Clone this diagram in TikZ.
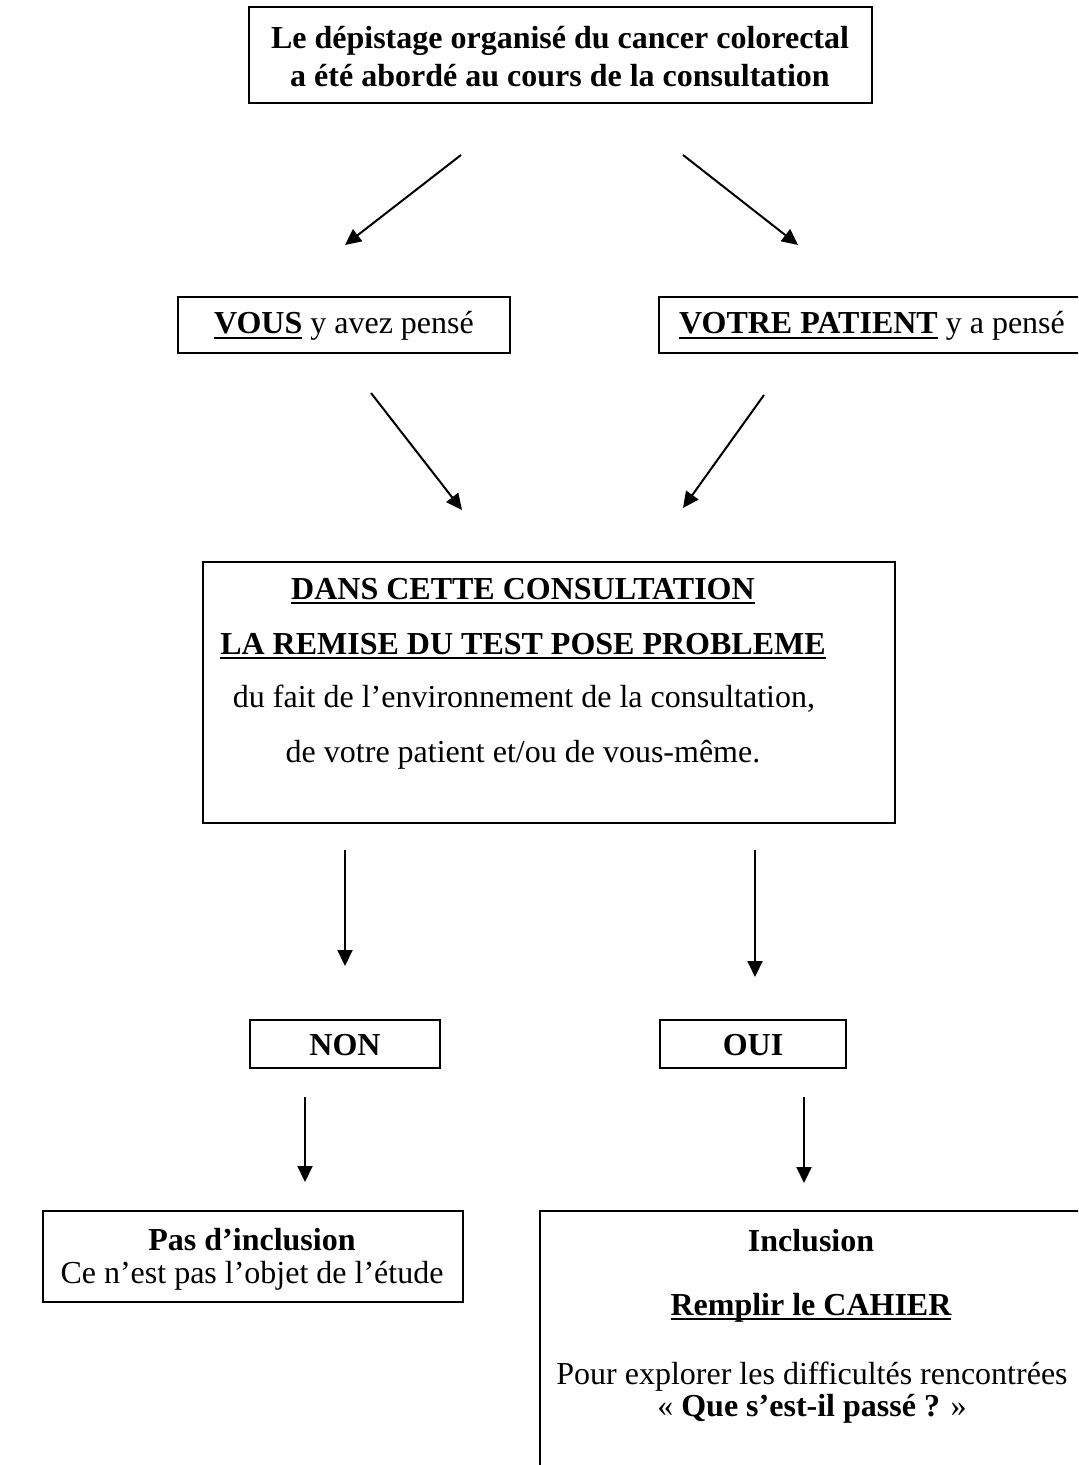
\documentclass[tikz,border=0pt]{standalone}
\usepackage{fontspec}
\setmainfont{Liberation Serif}
\newcommand{\myul}[1]{\setbox0\hbox{#1}\rlap{\vrule width\wd0 height -1.6pt depth 2.7pt}\box0\relax}
\usetikzlibrary{arrows.meta,fit}
\begin{document}
\begin{tikzpicture}[x=0.5pt,y=-0.5pt,
  box/.style={draw, line width=0.8pt, inner sep=0pt},
  txt/.style={font=\fontsize{16}{19}\selectfont, align=center, inner sep=0pt, anchor=base},
  arr/.style={-{Triangle[length=8pt,width=7.5pt]}, line width=1pt}]
\useasboundingbox (0,0) rectangle (1078,1465);
\clip (0,0) rectangle (1078,1465);
\fill[white] (0,0) rectangle (1078,1465);

% boxes
\node[box, fit={(249,7) (872,103)}] (top) {};
\node[box, fit={(178,297) (510,353)}] (vous) {};
\node[box, fit={(659,297) (1100,353)}] (patient) {};
\node[box, fit={(203,562) (895,823)}] (main) {};
\node[box, fit={(250,1020) (440,1068)}] (non) {};
\node[box, fit={(660,1020) (846,1068)}] (oui) {};
\node[box, fit={(43,1211) (463,1302)}] (pas) {};
\node[box, fit={(540,1211) (1100,1500)}] (incl) {};

% texts
\node[txt] (t1) at (560,49) {\bfseries Le dépistage organisé du cancer colorectal};
\node[txt] (t2) at (560,87) {\bfseries a été abordé au cours de la consultation};
\node[txt] (tvous) at (344,334) {\myul{\bfseries VOUS} y avez pensé};
\node[txt] (tpat) at (872,334) {\myul{\bfseries VOTRE PATIENT} y a pensé};
\node[txt] (m1) at (523,599) {\myul{\bfseries DANS CETTE CONSULTATION}};
\node[txt] (m2) at (523,654) {\myul{\bfseries LA REMISE DU TEST POSE PROBLEME}};
\node[txt] (m3) at (524,707) {du fait de l’environnement de la consultation,};
\node[txt] (m4) at (523,762) {de votre patient et/ou de vous-même.};
\node[txt] (tnon) at (345,1055) {\bfseries NON};
\node[txt] (toui) at (753,1055) {\bfseries OUI};
\node[txt] (p1) at (252,1250) {\bfseries Pas d’inclusion};
\node[txt] (p2) at (252,1283) {Ce n’est pas l’objet de l’étude};
\node[txt] (i1) at (811,1251) {\bfseries Inclusion};
\node[txt] (i2) at (811,1315) {\myul{\bfseries Remplir le CAHIER}};
\node[txt] (i3) at (812,1384) {Pour explorer les difficultés rencontrées};
\node[txt] (i4) at (812,1416) {« \textbf{Que s’est-il passé ?} »};

% arrow end points
\coordinate (a1s) at (461,155); \coordinate (a1e) at (345,245);
\coordinate (a2s) at (683,155); \coordinate (a2e) at (798,245);
\coordinate (a3s) at (371,393); \coordinate (a3e) at (462,510);
\coordinate (a4s) at (764,395); \coordinate (a4e) at (683,508);
\coordinate (a5s) at (345,850); \coordinate (a5e) at (345,966);
\coordinate (a6s) at (755,850); \coordinate (a6e) at (755,977);
\coordinate (a7s) at (305,1097); \coordinate (a7e) at (305,1182);
\coordinate (a8s) at (804,1097); \coordinate (a8e) at (804,1183);
\foreach \i in {1,...,8} \draw[arr] (a\i s) -- (a\i e);
\end{tikzpicture}
\end{document}
